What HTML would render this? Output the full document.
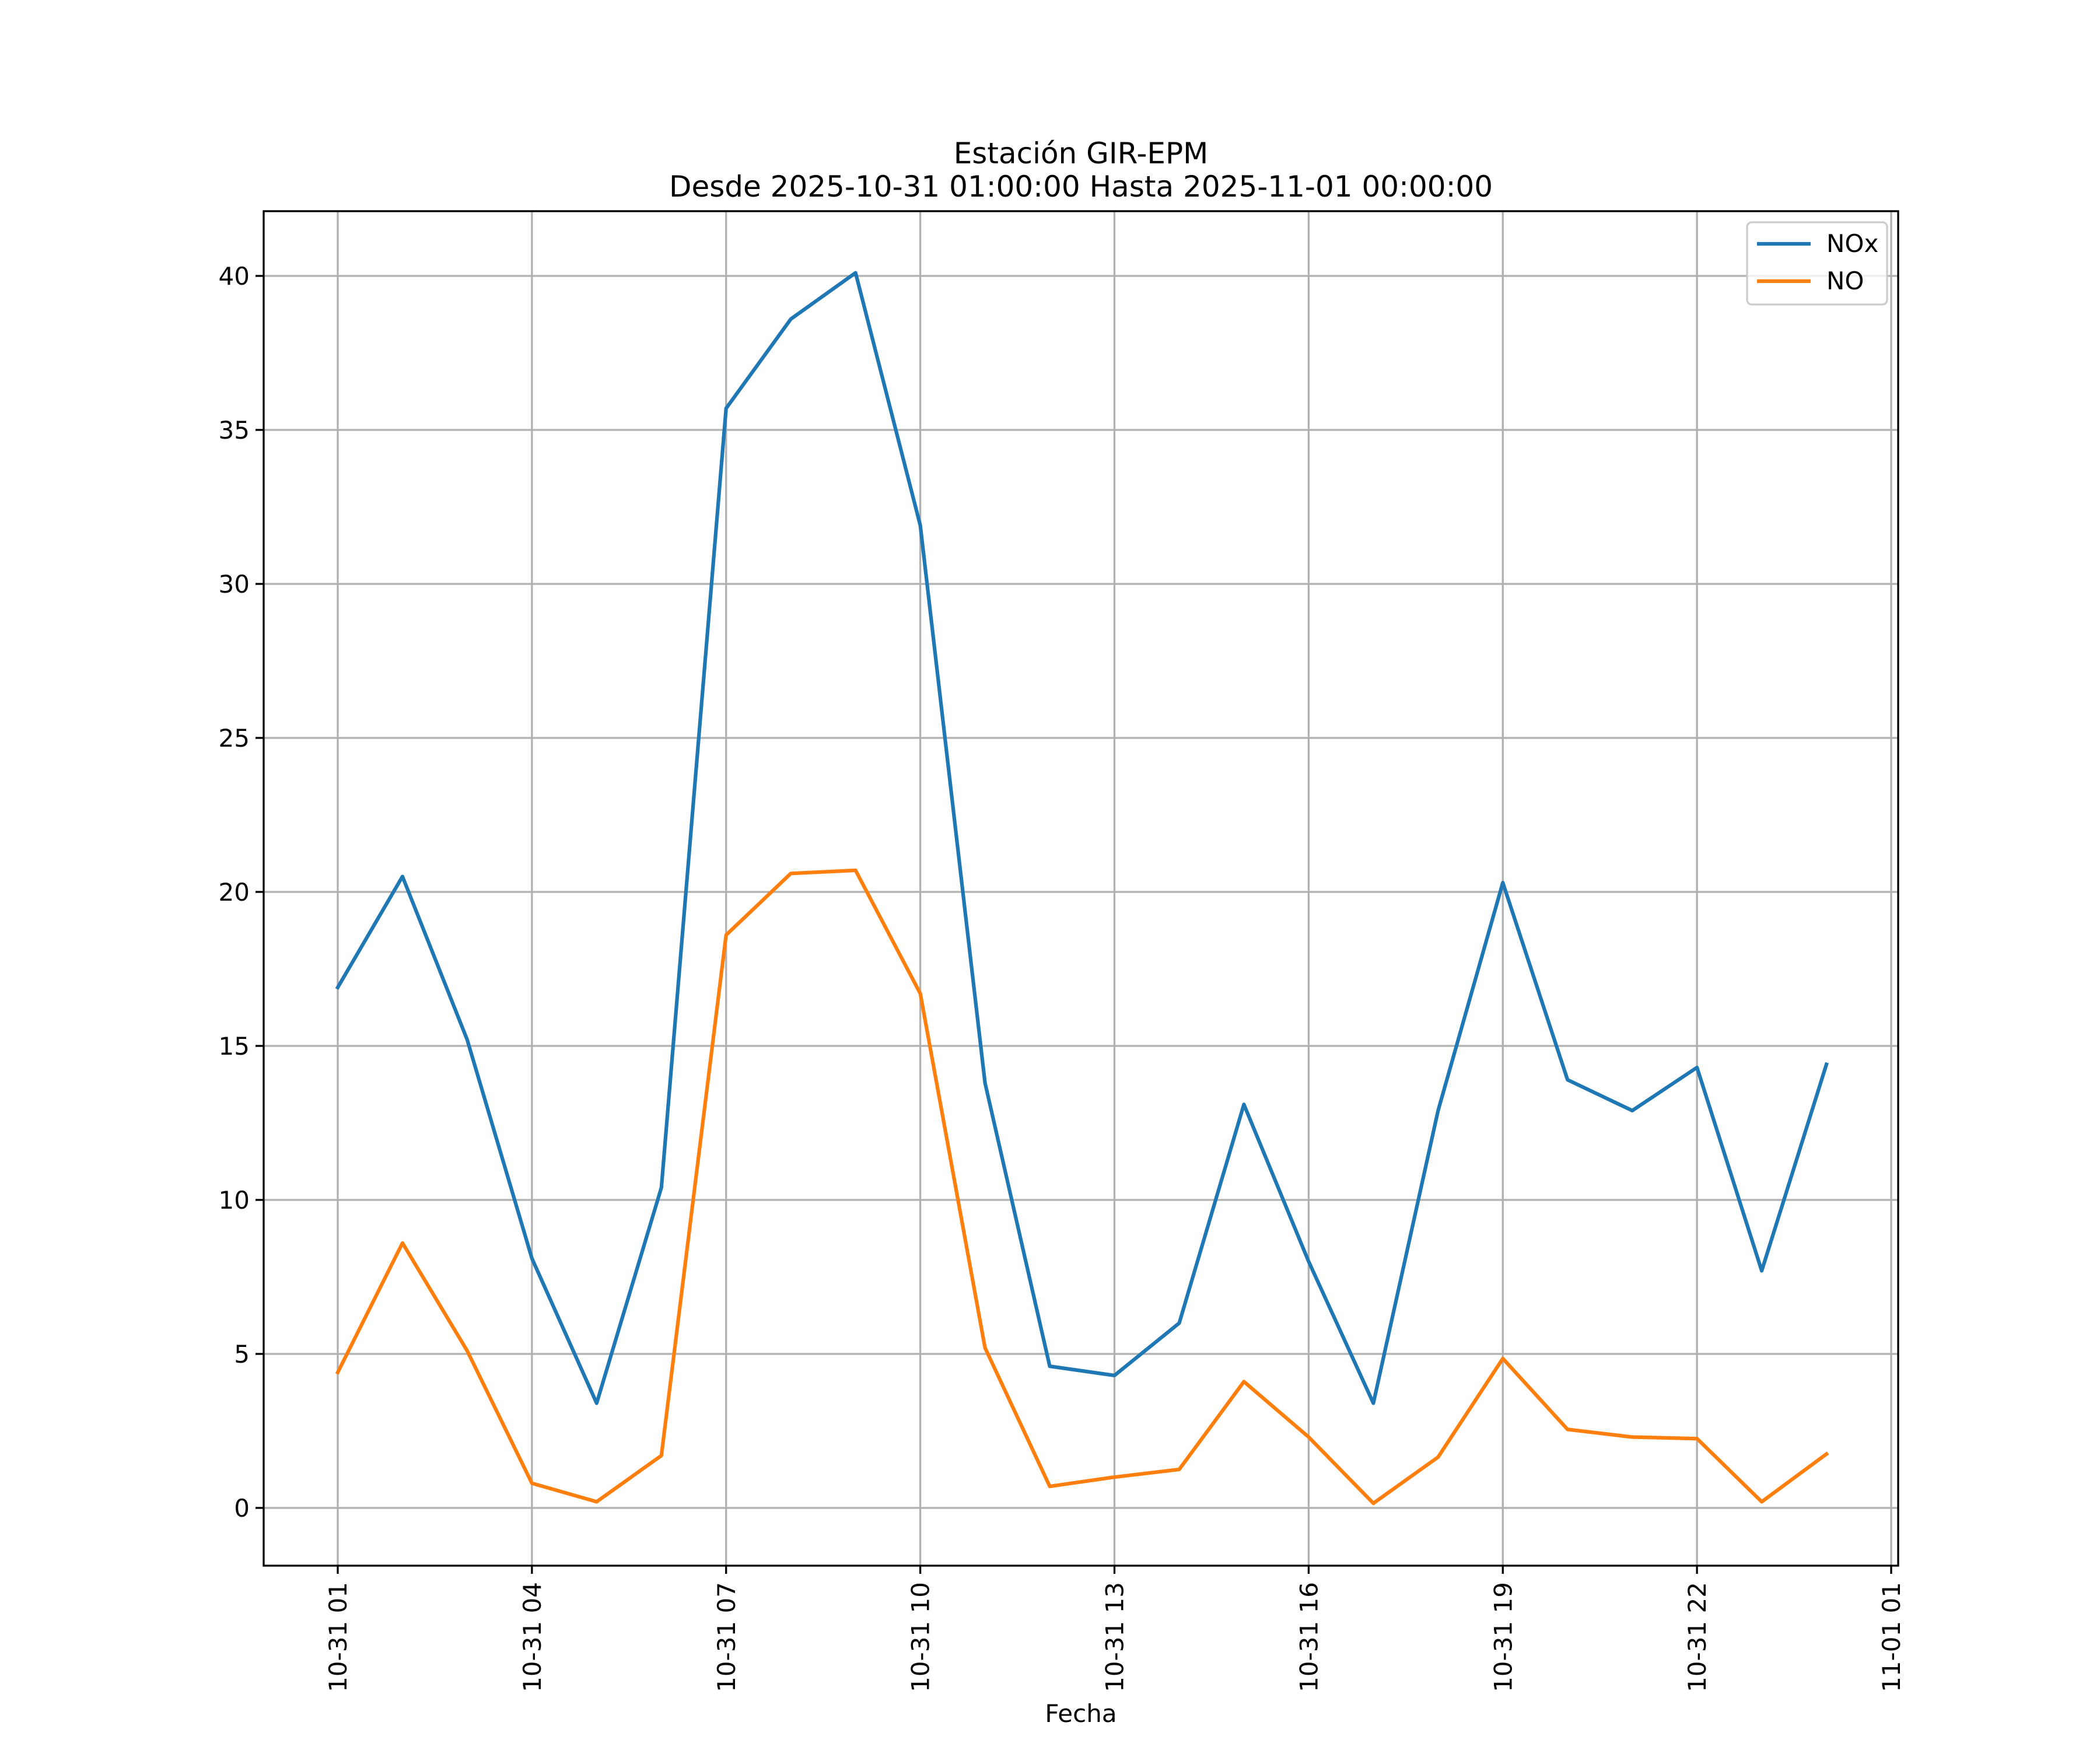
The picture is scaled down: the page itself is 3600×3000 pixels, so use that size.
<!DOCTYPE html>
<html><head><meta charset="utf-8"><style>html,body{margin:0;padding:0;background:#fff}svg{display:block}</style></head>
<body>
<svg id="chart" width="3600" height="3000" viewBox="0 0 3600 3000" xmlns="http://www.w3.org/2000/svg" font-family="'DejaVu Sans','Liberation Sans',sans-serif">
<rect width="3600" height="3000" fill="#fff"/>
<text x="1853" y="280" font-size="50" text-anchor="middle">Estación GIR-EPM</text>
<text x="1853" y="337" font-size="50" text-anchor="middle">Desde 2025-10-31 01:00:00 Hasta 2025-11-01 00:00:00</text>
<g id="grid"></g>
<g id="series"></g>
<rect x="452" y="362" width="2802" height="2322" fill="none" stroke="#000" stroke-width="3.3"/>
<g id="ticks"></g>
<text x="1853" y="2952" font-size="42" text-anchor="middle">Fecha</text>
<g>
<rect x="2995" y="381" width="240" height="141" rx="8" fill="#fff" fill-opacity="0.8" stroke="#ccc" stroke-width="3.3"/>
<line x1="3012" y1="418" x2="3104" y2="418" stroke="#1f77b4" stroke-width="6.25"/>
<text x="3131" y="432" font-size="42">NOx</text>
<line x1="3012" y1="482" x2="3104" y2="482" stroke="#ff7f0e" stroke-width="6.25"/>
<text x="3131" y="496" font-size="42">NO</text>
</g>
</svg>
<script>
const hours = [1,2,3,4,5,6,7,8,9,10,11,12,13,14,15,16,17,18,19,20,21,22,23,24];
const noxValues = [16.9,20.5,15.2,8.1,3.4,10.4,35.7,38.6,40.1,31.9,13.8,4.6,4.3,6.0,13.1,8.0,3.4,12.9,20.3,13.9,12.9,14.3,7.7,14.4];
const noValues = [4.4,8.6,5.1,0.8,0.2,1.7,18.6,20.6,20.7,16.7,5.2,0.7,1.0,1.25,4.1,2.3,0.15,1.65,4.85,2.55,2.3,2.25,0.2,1.75];
const yTicks = [0,5,10,15,20,25,30,35,40];
const xTickHours = [1,4,7,10,13,16,19,22,25];
const xTickLabels = ["10-31 01","10-31 04","10-31 07","10-31 10","10-31 13","10-31 16","10-31 19","10-31 22","11-01 01"];

const NS="http://www.w3.org/2000/svg";
const L=452,R=3254,T=362,B=2684;
const xs=h=>579+(h-1)*(3242-579)/24;
const ys=v=>2585-v*(2585-473)/40;
const grid=document.getElementById('grid'),ticks=document.getElementById('ticks'),series=document.getElementById('series');
function mk(tag,attrs,parent){const e=document.createElementNS(NS,tag);for(const k in attrs)e.setAttribute(k,attrs[k]);parent.appendChild(e);return e;}
yTicks.forEach(v=>{
  const y=ys(v);
  const g=mk('line',{x1:L,x2:R,y1:y,y2:y,stroke:'#b0b0b0','stroke-width':3.3},grid);
  
  
  mk('line',{x1:L-14,x2:L,y1:y,y2:y,stroke:'#000','stroke-width':3.3},ticks);
  const t=mk('text',{x:L-24,y:y+15,'font-size':42,'text-anchor':'end'},ticks);
  t.textContent=v;
  
  
});
xTickHours.forEach((h,i)=>{
  const x=xs(h);
  const g=mk('line',{x1:x,x2:x,y1:T,y2:B,stroke:'#b0b0b0','stroke-width':3.3},grid);
  
  
  mk('line',{x1:x,x2:x,y1:B,y2:B+14,stroke:'#000','stroke-width':3.3},ticks);
  const t=mk('text',{x:0,y:0,'font-size':42,'text-anchor':'end',transform:`translate(${x+15},${B+28}) rotate(-90)`},ticks);
  t.textContent=xTickLabels[i];
  
  
});
function line(vals,color,name){
  const p=mk('polyline',{points:vals.map((v,i)=>xs(hours[i])+','+ys(v)).join(' '),fill:'none',stroke:color,'stroke-width':6.25,'stroke-linejoin':'round','stroke-linecap':'square'},series);
  
  
}
line(noxValues,'#1f77b4','nox-line');
line(noValues,'#ff7f0e','no-line');
</script>
</body></html>
